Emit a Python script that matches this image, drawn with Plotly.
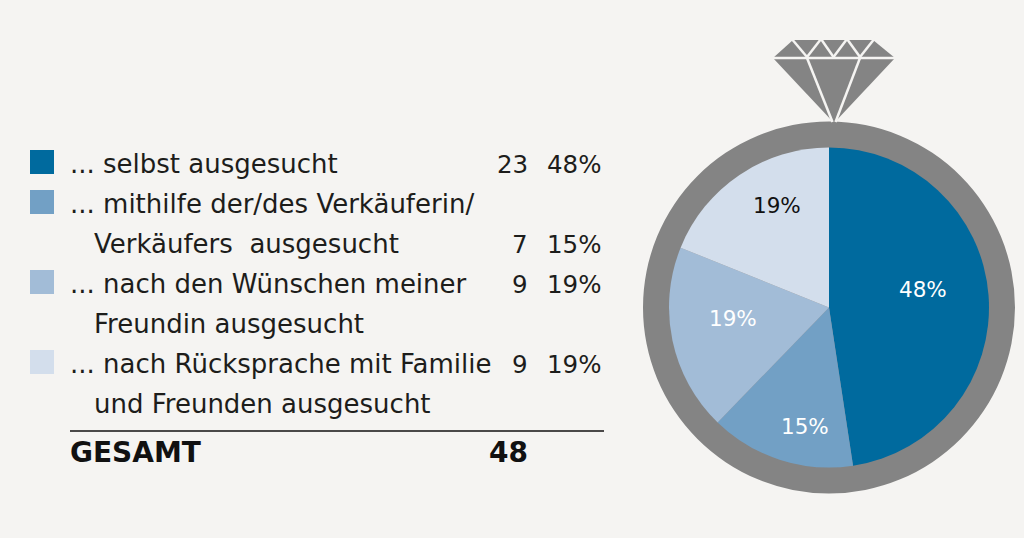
import plotly.graph_objects as go

W, H = 1024, 538
BG = "#f5f4f2"
FONT = "DejaVu Sans"
INK = "#1d1d1b"
GREY = "#848484"

categories = ["selbst", "mithilfe", "Wuensche", "Ruecksprache"]
slice_shares = [47.6, 14.65, 18.85, 18.9]
percent_labels = ["48%", "15%", "19%", "19%"]
colors = ["#006a9e", "#72a0c5", "#a2bcd7", "#d3deec"]
label_colors = ["white", "white", "white", "#111111"]
label_pos = [(923, 289), (805, 427), (733, 318), (777, 205)]

rows = [
    ("... selbst ausgesucht", "23", "48%", 0),
    ("... mithilfe der/des Verkäuferin/", "", "", 1),
    ("Verkäufers  ausgesucht", "7", "15%", None),
    ("... nach den Wünschen meiner", "9", "19%", 2),
    ("Freundin ausgesucht", "", "", None),
    ("... nach Rücksprache mit Familie", "9", "19%", 3),
    ("und Freunden ausgesucht", "", "", None),
]
row_y = [165, 205, 245, 285, 325, 365, 405]
total_label, total_value = "GESAMT", "48"


def px(x):
    return x / W


def py(y):
    return 1 - y / H


cx, cy, r_ring, r_pie = 829, 307.5, 186, 160

fig = go.Figure(
    go.Pie(
        labels=categories,
        values=slice_shares,
        sort=False,
        direction="clockwise",
        rotation=0,
        marker=dict(colors=colors, line=dict(width=0)),
        textinfo="none",
        hoverinfo="skip",
        showlegend=False,
        domain=dict(
            x=[px(cx - r_pie), px(cx + r_pie)],
            y=[py(cy + r_pie), py(cy - r_pie)],
        ),
    )
)

shapes = []


def rect(x0, y0, x1, y1, color):
    shapes.append(dict(type="rect", xref="paper", yref="paper", x0=px(x0), x1=px(x1),
                       y0=py(y0), y1=py(y1), fillcolor=color, line=dict(width=0), layer="below"))


def line(x0, y0, x1, y1, color, width):
    shapes.append(dict(type="line", xref="paper", yref="paper", x0=px(x0), x1=px(x1),
                       y0=py(y0), y1=py(y1), line=dict(color=color, width=width), layer="above"))


# ring
shapes.append(dict(type="circle", xref="paper", yref="paper",
                   x0=px(cx - r_ring), x1=px(cx + r_ring), y0=py(cy + r_ring), y1=py(cy - r_ring),
                   fillcolor=GREY, line=dict(width=0), layer="below"))

# diamond
diamond = [(773, 58), (793, 40), (873, 40), (895, 58), (834, 123)]
path = "M " + " L ".join(f"{px(x):.5f},{py(y):.5f}" for x, y in diamond) + " Z"
shapes.append(dict(type="path", xref="paper", yref="paper", path=path,
                   fillcolor=GREY, line=dict(width=0), layer="below"))
line(771, 58, 897, 58, BG, 2.5)
line(807, 58, 832.5, 122, BG, 2.5)
line(860, 58, 835.5, 122, BG, 2.5)
zig = [(791, 38), (807, 57), (821, 39), (833.5, 57), (847, 39), (860, 57), (875, 38)]
for a, b in zip(zig, zig[1:]):
    line(a[0], a[1], b[0], b[1], BG, 2.5)

annotations = []


def text(x, y, s, anchor="left", size=24.5, color=INK, bold=False):
    annotations.append(dict(xref="paper", yref="paper", x=px(x), y=py(y), text=f"<b>{s}</b>" if bold else s,
                            showarrow=False, xanchor=anchor, yanchor="middle",
                            font=dict(family=FONT, size=size, color=color),
                            borderpad=0, borderwidth=0))


for (label, n, pct, swatch), y in zip(rows, row_y):
    cont = label.startswith("...")
    text(70 if cont else 94, y - 1, label, size=26)
    if n:
        text(528, y - 1, n, "right")
        text(601, y - 1, pct, "right")
    if swatch is not None:
        rect(30, y - 15, 54, y + 9, colors[swatch])

line(70, 431, 604, 431, "#111111", 1.5)
text(70, 452, total_label, bold=True, size=28, color="#111111")
text(528, 452, total_value, "right", bold=True, size=28, color="#111111")

for s, (x, y), c in zip(percent_labels, label_pos, label_colors):
    text(x, y, s, "center", size=21.5, color=c)

fig.update_layout(
    width=W, height=H, autosize=False,
    margin=dict(l=0, r=0, t=0, b=0),
    paper_bgcolor=BG, plot_bgcolor=BG,
    shapes=shapes, annotations=annotations,
    showlegend=False,
)
fig.write_html("out.html", config=dict(displayModeBar=False),
               post_script="document.body.style.margin='0';document.body.style.background='%s';" % BG)
